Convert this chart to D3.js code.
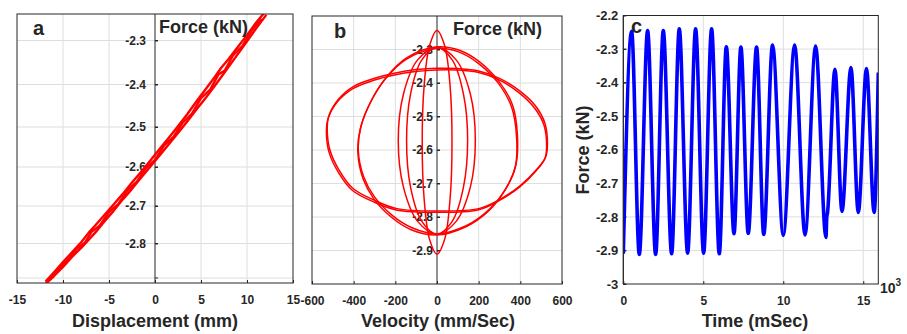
<!DOCTYPE html>
<html>
<head>
<meta charset="utf-8">
<script src="https://cdn.jsdelivr.net/npm/d3@7"></script>
<style>
  body { margin: 0; background: #ffffff; }
  svg text { font-family: "Liberation Sans", Arial, Helvetica, sans-serif; font-weight: bold; fill: #262626; }
</style>
</head>
<body>
<svg id="chart" width="907" height="334"></svg>
<script>
// ---------------- panel a : force vs displacement ----------------
const dispTicks = [-15, -10, -5, 0, 5, 10, 15];
const forceTicksA = [-2.9, -2.8, -2.7, -2.6, -2.5, -2.4, -2.3];
const forceLabelsA = [-2.8, -2.7, -2.6, -2.5, -2.4, -2.3];

const dispRun1 = [-11.9, -11, -10, -9, -8, -7.2, -6.5, -5.5, -4.5, -3.5, -2.5, -1.5, -0.5, 0.5, 1.5, 2.5, 3.5, 4.5, 5.5, 6.5, 7.2, 8, 9, 10, 11, 12.1];
const forceRun1 = [-2.918, -2.895, -2.868, -2.838, -2.812, -2.79, -2.771, -2.741, -2.713, -2.683, -2.656, -2.627, -2.599, -2.571, -2.543, -2.515, -2.487, -2.459, -2.432, -2.403, -2.383, -2.36, -2.331, -2.302, -2.273, -2.243];
const forceRun2 = [-2.911, -2.884, -2.854, -2.825, -2.796, -2.771, -2.752, -2.724, -2.696, -2.669, -2.64, -2.612, -2.584, -2.555, -2.527, -2.498, -2.47, -2.44, -2.411, -2.383, -2.362, -2.342, -2.315, -2.288, -2.26, -2.233];
const dispRun3 = [-11.5, -10.5, -9.5, -8.5, -7.6, -6.9, -6, -5, -4, -3, -2, -1, 0, 1, 2, 3, 4, 5, 6, 6.9, 7.6, 8.5, 9.5, 10.5, 11.6];
const forceRun3 = [-2.906, -2.873, -2.849, -2.815, -2.797, -2.769, -2.752, -2.716, -2.695, -2.66, -2.638, -2.603, -2.582, -2.546, -2.525, -2.49, -2.469, -2.432, -2.412, -2.377, -2.368, -2.333, -2.313, -2.278, -2.252];

// ---------------- panel b : force vs velocity loops ----------------
const velTicks = [-600, -400, -200, 0, 200, 400, 600];
const forceTicksB = [-2.9, -2.8, -2.7, -2.6, -2.5, -2.4, -2.3];

const narrowVel = [72, 63, 37, 0, -36, -62, -71, -62, -36, 0, 37, 63];
const narrowForce = [-2.577, -2.41, -2.289, -2.243, -2.289, -2.41, -2.577, -2.744, -2.866, -2.911, -2.866, -2.744];
const midVel = [147, 127, 73, 0, -73, -127, -146, -127, -73, 0, 73, 127];
const midForce = [-2.572, -2.433, -2.331, -2.294, -2.331, -2.433, -2.572, -2.711, -2.813, -2.851, -2.813, -2.711];
const midWideVel = [184, 160, 92, 0, -93, -161, -186, -161, -93, 0, 92, 160];
const midWideForce = [-2.572, -2.433, -2.331, -2.294, -2.331, -2.433, -2.572, -2.711, -2.813, -2.851, -2.813, -2.711];

const wideVel1 = [386, 362, 298, 203, 108, 0, -146, -241, -313, -365, -378, -352, -300, -215, -120, 0, 140, 251, 330, 378];
const wideForce1 = [-2.555, -2.465, -2.396, -2.336, -2.302, -2.292, -2.325, -2.381, -2.45, -2.53, -2.6, -2.68, -2.74, -2.795, -2.832, -2.85, -2.826, -2.777, -2.716, -2.647];
const wideVel2 = [382, 358, 295, 200, 104, -4, -150, -245, -318, -368, -380, -355, -304, -220, -124, -4, 136, 248, 326, 375];
const wideForce2 = [-2.562, -2.472, -2.401, -2.342, -2.307, -2.297, -2.33, -2.386, -2.456, -2.536, -2.606, -2.686, -2.745, -2.8, -2.838, -2.854, -2.83, -2.782, -2.72, -2.652];

const outerVel1 = [530, 518, 475, 400, 300, 200, 100, 0, -100, -200, -300, -400, -475, -520, -527, -514, -470, -403, -300, -192, 0, 200, 300, 400, 480, 522];
const outerForce1 = [-2.585, -2.52, -2.47, -2.425, -2.386, -2.364, -2.357, -2.356, -2.36, -2.37, -2.386, -2.41, -2.45, -2.5, -2.535, -2.6, -2.66, -2.715, -2.75, -2.775, -2.782, -2.775, -2.748, -2.706, -2.657, -2.62];
const outerVel2 = [526, 514, 470, 396, 296, 196, 96, -4, -104, -204, -304, -404, -479, -524, -531, -518, -474, -407, -304, -196, -4, 196, 296, 396, 476, 518];
const outerForce2 = [-2.592, -2.527, -2.476, -2.43, -2.39, -2.368, -2.361, -2.361, -2.366, -2.376, -2.392, -2.417, -2.457, -2.508, -2.543, -2.607, -2.666, -2.72, -2.755, -2.779, -2.786, -2.779, -2.752, -2.711, -2.662, -2.626];

// ---------------- panel c : force time history ----------------
const timeTicks = [0, 5, 10, 15];
const forceTicksC = [-3, -2.9, -2.8, -2.7, -2.6, -2.5, -2.4, -2.3, -2.2];
const timeK = [0, 0.52, 1.0, 1.52, 2.02, 2.5, 3.02, 3.5, 4.02, 4.52, 5.02, 5.52, 6.0, 6.44, 6.92, 7.35, 7.81, 8.33, 8.78, 9.33, 10.0, 10.71, 11.36, 12.02, 12.67, 12.72, 12.76, 13.23, 13.67, 14.23, 14.69, 15.2, 15.68, 15.94];
const forceC = [-2.91, -2.247, -2.912, -2.245, -2.912, -2.245, -2.91, -2.24, -2.908, -2.24, -2.908, -2.24, -2.91, -2.293, -2.85, -2.294, -2.849, -2.294, -2.852, -2.288, -2.855, -2.288, -2.854, -2.291, -2.861, -2.80, -2.79, -2.36, -2.784, -2.355, -2.787, -2.358, -2.787, -2.37];

// ---------------- drawing ----------------
const svg = d3.select("#chart");
const INK = "#262626", GRID = "#dedede";

function panelFrame(id, x, y, o) {
  const [x0, x1] = x.range();
  const yb = y(y.domain()[0]), yt = y(y.domain()[y.domain().length - 1]);
  const g = svg.append("g").attr("id", id);

  svg.append("clipPath").attr("id", id + "-clip")
    .append("rect").attr("x", x0).attr("y", yt).attr("width", x1 - x0).attr("height", yb - yt);

  // grid
  g.append("g").selectAll("line").data(o.xGrid).join("line")
    .attr("x1", d => x(d)).attr("x2", d => x(d)).attr("y1", yt).attr("y2", yb)
    .attr("stroke", GRID).attr("stroke-width", 1);
  g.append("g").selectAll("line").data(o.yGrid).join("line")
    .attr("x1", x0).attr("x2", x1).attr("y1", d => y(d)).attr("y2", d => y(d))
    .attr("stroke", GRID).attr("stroke-width", 1);

  // bottom axis
  const bx = g.append("g").attr("class", "xax").attr("transform", `translate(0,${yb})`)
    .call(d3.axisBottom(x).tickValues(o.xTicks).tickSize(-3).tickPadding(12).tickFormat(d => String(d)));
  bx.select(".domain").remove();

  // vertical axis (origin or left edge)
  const ax = o.yAxisAt;
  const ly = g.append("g").attr("class", "yax").attr("transform", `translate(${ax},0)`)
    .call(d3.axisLeft(y).tickValues(o.yLabels).tickSize(-3).tickPadding(o.yPad).tickFormat(d => String(d)));
  ly.select(".domain").remove();
  g.append("g").attr("transform", `translate(${ax},0)`).selectAll("line")
    .data(o.yTickMarks).join("line")
    .attr("x1", 0).attr("x2", 3).attr("y1", d => y(d)).attr("y2", d => y(d))
    .attr("stroke", INK);
  g.append("line").attr("x1", ax).attr("x2", ax).attr("y1", yt).attr("y2", yb).attr("stroke", INK);

  g.selectAll(".tick line").attr("stroke", INK);
  g.selectAll(".xax .tick text").attr("font-size", o.xFont).attr("fill", INK);
  g.selectAll(".yax .tick text").attr("font-size", o.yFont).attr("fill", INK);
  g.selectAll("g").attr("font-family", null);

  return { g, yb, yt, x0, x1 };
}

function frameBox(p) {
  p.g.append("rect").attr("x", p.x0).attr("y", p.yt).attr("width", p.x1 - p.x0).attr("height", p.yb - p.yt)
    .attr("fill", "none").attr("stroke", INK).attr("stroke-width", 1);
}

// ---- panel a ----
const xA = d3.scaleLinear().domain([-15, 15]).range([17, 293]);
const yA = d3.scaleLinear()
  .domain([-2.915, -2.9, -2.8, -2.7, -2.6, -2.5, -2.4, -2.3, -2.241])
  .range([283, 278, 243.5, 206, 167, 127, 84.5, 40.5, 14]);
const pA = panelFrame("pa", xA, yA, {
  xGrid: [-10, -5, 5, 10], yGrid: forceTicksA, xTicks: dispTicks,
  yAxisAt: xA(0), yLabels: forceLabelsA, yTickMarks: forceTicksA, yPad: 9, xFont: 12, yFont: 12
});
const lineA = d3.line().x(d => xA(d[0])).y(d => yA(d[1]));
const runsA = [d3.zip(dispRun1, forceRun1), d3.zip(dispRun1, forceRun2), d3.zip(dispRun3, forceRun3)];
pA.g.append("g").attr("clip-path", "url(#pa-clip)").selectAll("path").data(runsA).join("path")
  .attr("d", lineA).attr("fill", "none").attr("stroke", "#ff0000").attr("stroke-width", 2.4).attr("stroke-linejoin", "round");
frameBox(pA);
pA.g.append("text").attr("x", 33).attr("y", 35).attr("font-size", 20).text("a");
pA.g.append("text").attr("x", 159).attr("y", 33).attr("font-size", 18).text("Force (kN)");
pA.g.append("text").attr("x", 155).attr("y", 327).attr("text-anchor", "middle").attr("font-size", 18).text("Displacement (mm)");

// ---- panel b ----
const xB = d3.scaleLinear().domain([-600, 600]).range([312, 562]);
const yB = d3.scaleLinear().domain([-3, -2.2]).range([284, 16]);
const pB = panelFrame("pb", xB, yB, {
  xGrid: [-400, -200, 200, 400], yGrid: forceTicksB, xTicks: velTicks,
  yAxisAt: xB(0), yLabels: forceTicksB, yTickMarks: forceTicksB, yPad: 4, xFont: 12, yFont: 12
});
const loopB = d3.line().x(d => xB(d[0])).y(d => yB(d[1])).curve(d3.curveCatmullRomClosed.alpha(0.5));
const loopsB = [
  d3.zip(narrowVel, narrowForce), d3.zip(midVel, midForce), d3.zip(midWideVel, midWideForce),
  d3.zip(wideVel1, wideForce1), d3.zip(wideVel2, wideForce2),
  d3.zip(outerVel1, outerForce1), d3.zip(outerVel2, outerForce2)
];
pB.g.append("g").attr("clip-path", "url(#pb-clip)").selectAll("path").data(loopsB).join("path")
  .attr("d", loopB).attr("fill", "none").attr("stroke", "#ff0000").attr("stroke-width", 1.5);
frameBox(pB);
pB.g.append("text").attr("x", 334).attr("y", 38).attr("font-size", 20).text("b");
pB.g.append("text").attr("x", 453).attr("y", 35).attr("font-size", 18).text("Force (kN)");
pB.g.append("text").attr("x", 438).attr("y", 327).attr("text-anchor", "middle").attr("font-size", 18).text("Velocity (mm/Sec)");

// ---- panel c ----
const xC = d3.scaleLinear().domain([0, 15.94]).range([623.3, 878.3]);
const yC = d3.scaleLinear().domain([-3, -2.2]).range([284, 15.5]);
const pC = panelFrame("pc", xC, yC, {
  xGrid: [5, 10, 15], yGrid: forceTicksC.slice(1, -1), xTicks: timeTicks,
  yAxisAt: xC(0), yLabels: forceTicksC, yTickMarks: forceTicksC, yPad: 5, xFont: 12, yFont: 13
});
const lineC = d3.line().x(d => xC(d[0])).y(d => yC(d[1])).curve(d3.curveMonotoneX);
pC.g.append("path").datum(d3.zip(timeK, forceC)).attr("clip-path", "url(#pc-clip)")
  .attr("d", lineC).attr("fill", "none").attr("stroke", "#0000ff").attr("stroke-width", 3.6).attr("stroke-linejoin", "round");
frameBox(pC);
pC.g.append("text").attr("x", 631).attr("y", 33).attr("font-size", 20).attr("fill", "#111").text("c");
pC.g.append("text").attr("x", 755).attr("y", 327).attr("text-anchor", "middle").attr("font-size", 18).text("Time (mSec)");
pC.g.append("text").attr("transform", "translate(589,150) rotate(-90)").attr("text-anchor", "middle").attr("font-size", 18).text("Force (kN)");
const expo = pC.g.append("text").attr("x", 880).attr("y", 293).attr("font-size", 14);
expo.append("tspan").text("10");
expo.append("tspan").attr("font-size", 10).attr("dy", -7).text("3");
</script>
</body>
</html>
